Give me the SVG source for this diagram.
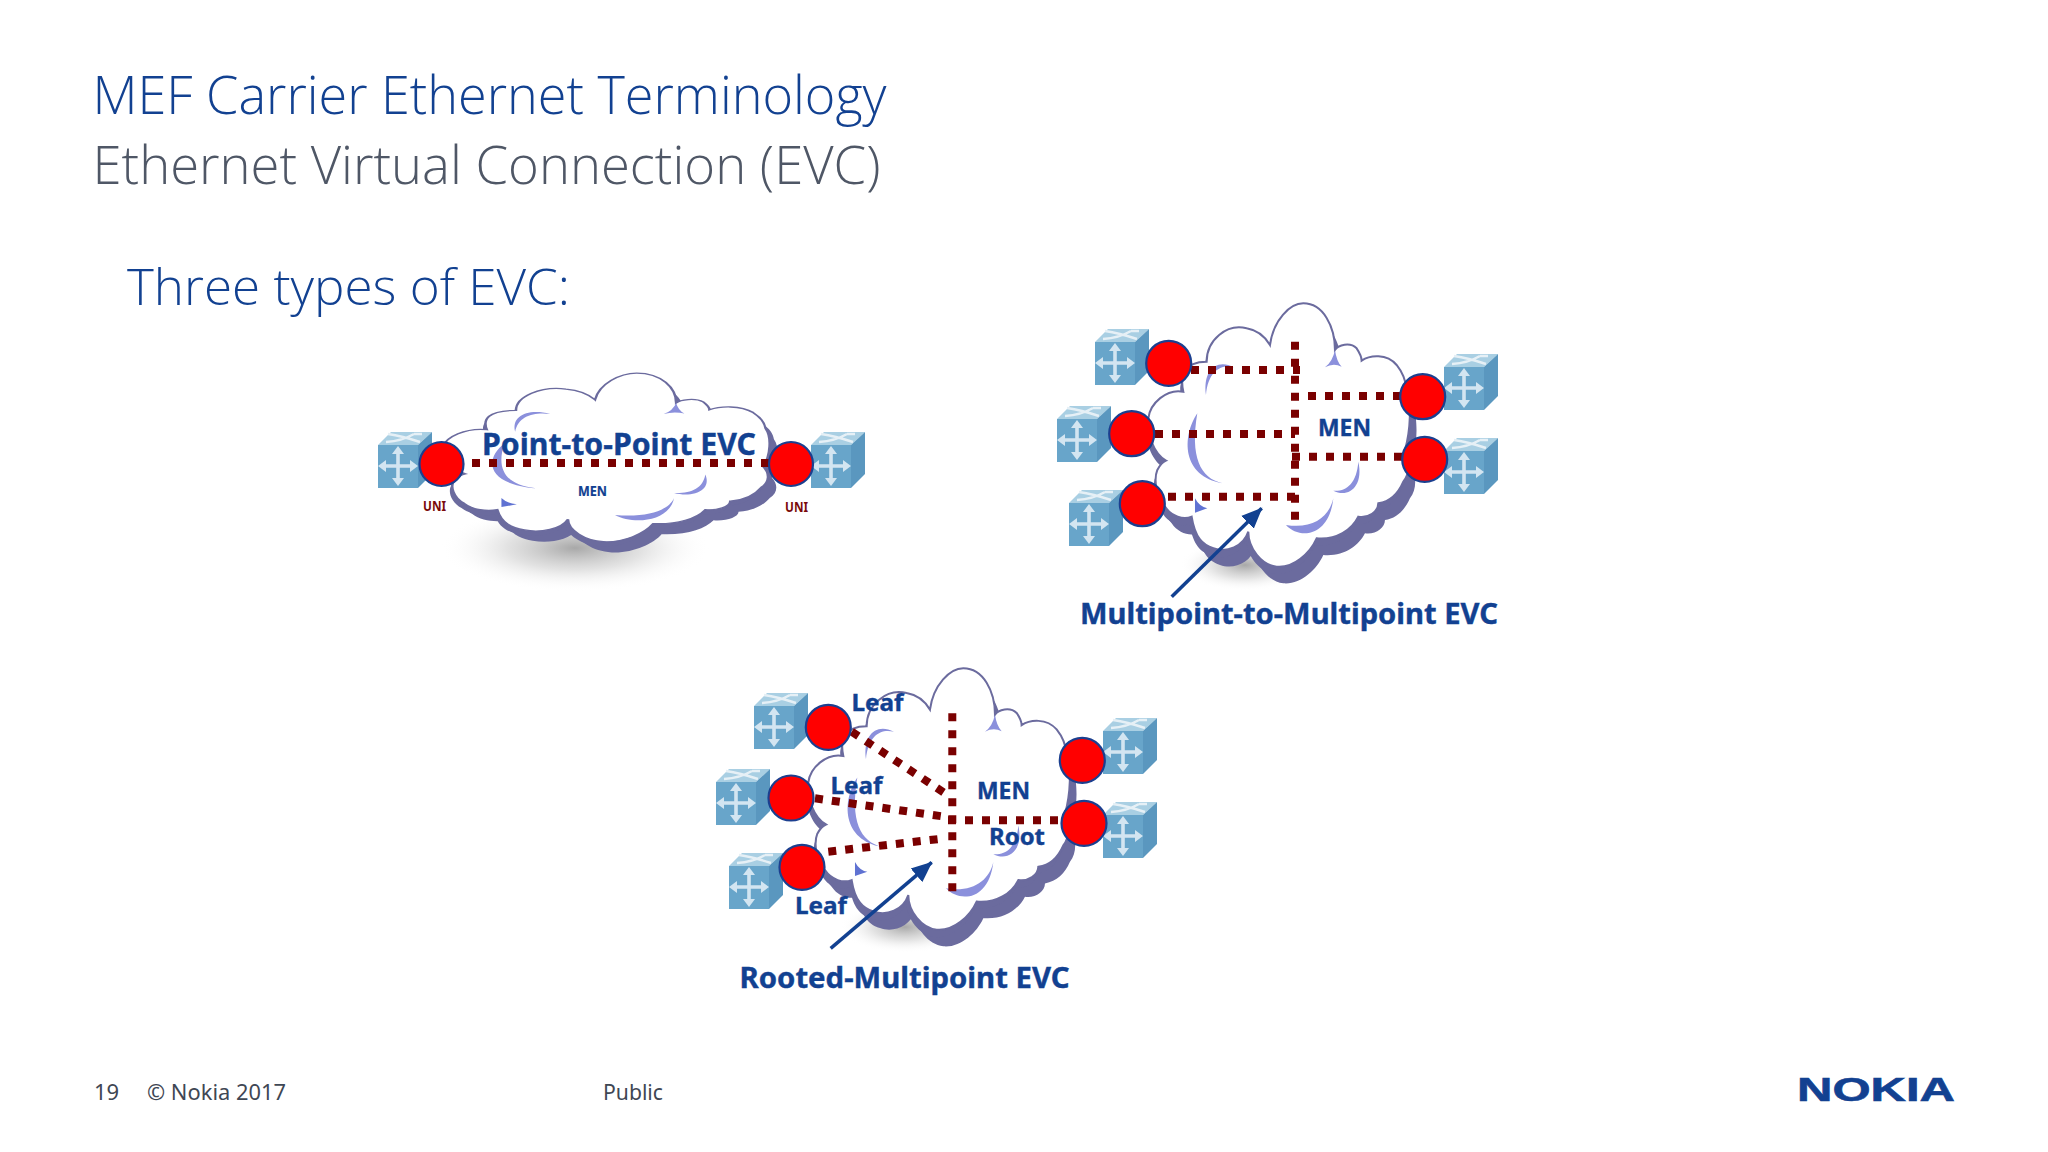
<svg xmlns="http://www.w3.org/2000/svg" xmlns:xlink="http://www.w3.org/1999/xlink" width="2048" height="1152" viewBox="0 0 2048 1152">
<style>
text{font-family:"Noto Sans","Open Sans","Liberation Sans",sans-serif}
.t{font-weight:300;fill:#124191;font-family:"Open Sans","Noto Sans",sans-serif}
.g{fill:#4f5766}
.f{font-size:22px;fill:#3f4754;font-weight:400}
.b{font-weight:700;fill:#124191;stroke:#124191;stroke-width:.4}
.u{font-weight:700;fill:#7a0a0a;font-size:14px}
.d{fill:none;stroke:#7a0000;stroke-width:8;stroke-dasharray:8 9}
.a{fill:none;stroke:#124191;stroke-width:3.5;marker-end:url(#ah)}
.c{fill:#ff0000;stroke:#1b3f8f;stroke-width:2.2}
.k{fill:#8b90dc}
.k2{fill:#5f72d2}
</style>
<defs>
<marker id="ah" markerUnits="userSpaceOnUse" markerWidth="22" markerHeight="20" refX="20" refY="10" orient="auto"><path d="M0,1 L21,10 L0,19 Z" fill="#124191"/></marker>
<radialGradient id="sh"><stop offset="0" stop-color="#a8a8a8"/><stop offset=".5" stop-color="#d6d6d6" stop-opacity=".7"/><stop offset="1" stop-color="#fff" stop-opacity="0"/></radialGradient>
<path id="cp" d="M690,165 C700,90 750,40 790,40 C850,40 885,110 885,180 C895,165 930,155 950,175 C960,190 965,200 965,212 C990,195 1040,190 1070,225 C1090,250 1098,275 1100,300 C1115,340 1112,420 1095,480 C1110,510 1110,550 1090,575 C1075,610 1050,635 1015,640 C1015,665 985,685 955,680 C935,720 890,750 830,745 C810,790 760,835 710,830 C665,825 625,775 625,725 C610,770 560,790 520,775 C490,765 465,745 455,680 C430,690 395,680 375,650 C350,625 340,570 352,540 C360,525 370,515 378,512 C340,490 320,430 325,385 C330,340 380,295 430,305 C420,260 430,215 500,215 C500,150 560,100 620,115 C650,120 675,140 690,165 Z"/>
<g id="cloud">
<use xlink:href="#cp" href="#cp" transform="translate(20,50)" fill="#6b6b9e"/>
<use xlink:href="#cp" href="#cp" transform="translate(-6,22)" fill="#6b6b9e"/>
<use xlink:href="#cp" href="#cp" fill="#fff" stroke="#6b6b9e" stroke-width="6"/>
<path class="k" d="M498,315 C488,240 530,205 582,232 C545,222 505,240 498,315 Z"/>
<path class="k" d="M472,370 C425,440 425,560 548,580 C480,565 450,500 472,370 Z"/>
<path class="k2" d="M465,625 Q478,650 502,655 L465,668 Z"/>
<path class="k" d="M855,232 Q878,215 885,180 Q890,215 905,230 Q880,218 855,232 Z"/>
<path class="k" d="M738,705 C780,750 868,740 880,625 C868,680 820,718 738,705 Z"/>
<path class="k" d="M955,515 C972,590 925,625 880,602 C920,605 950,580 955,515 Z"/>
</g>
<g id="sw">
<polygon points="0,13 13,0 54,0 40,13" fill="#a9cfe3"/>
<polygon points="40,13 54,0 54,42 40,56" fill="#5a97bf"/>
<rect x="0" y="13" width="40" height="43" fill="#68a5ca"/>
<path d="M8,10 Q24,9 36,2 M10,2 Q24,4 42,10 M36,2 L44,2" fill="none" stroke="#e6f0f6" stroke-width="2.4"/>
<path d="M5,34 H35 M20,19 V49" stroke="#d3e5f1" stroke-width="3.600" fill="none"/>
<path d="M0,34 L8,28 V40 Z M40,34 L32,28 V40 Z M20,14 L14,22 H26 Z M20,54 L14,46 H26 Z" fill="#d3e5f1"/>
</g>
</defs>
<rect width="2048" height="1152" fill="#fff"/>

<g id="heading">
<text class="t" x="92.500" y="114" font-size="53" textLength="794" lengthAdjust="spacingAndGlyphs">MEF Carrier Ethernet Terminology</text>
<text class="t g" x="92.500" y="184" font-size="53" textLength="788" lengthAdjust="spacingAndGlyphs">Ethernet Virtual Connection (EVC)</text>
<text class="t" x="127" y="305" font-size="50" textLength="443" lengthAdjust="spacingAndGlyphs">Three types of EVC:</text>
</g>

<g id="clouds">
<g id="cloud-p2p"><ellipse cx="575" cy="548" rx="135" ry="44" fill="url(#sh)"/><use xlink:href="#cloud" href="#cloud" transform="matrix(.416 0 0 .2135 308 364.500)"/></g>
<g id="cloud-mp2mp"><ellipse cx="1245" cy="565" rx="65" ry="26" fill="url(#sh)"/><use xlink:href="#cloud" href="#cloud" transform="matrix(.3333 0 0 .3333 1040 290)"/></g>
<g id="cloud-rooted"><ellipse cx="905" cy="927" rx="65" ry="26" fill="url(#sh)"/><use xlink:href="#cloud" href="#cloud" transform="matrix(.3333 0 0 .331 700 655)"/></g>
</g>

<g id="switches">
<g id="sw-p2p-l"><use href="#sw" x="378" y="432"/></g>
<g id="sw-p2p-r"><use href="#sw" x="811" y="432"/></g>
<g id="sw-m-1"><use href="#sw" x="1095" y="329"/></g>
<g id="sw-m-2"><use href="#sw" x="1057" y="406"/></g>
<g id="sw-m-3"><use href="#sw" x="1069" y="490"/></g>
<g id="sw-m-4"><use href="#sw" x="1444" y="354"/></g>
<g id="sw-m-5"><use href="#sw" x="1444" y="438"/></g>
<g id="sw-r-1"><use href="#sw" x="754" y="693"/></g>
<g id="sw-r-2"><use href="#sw" x="716" y="769"/></g>
<g id="sw-r-3"><use href="#sw" x="729" y="853"/></g>
<g id="sw-r-4"><use href="#sw" x="1103" y="718"/></g>
<g id="sw-r-5"><use href="#sw" x="1103" y="802"/></g>
</g>

<g id="connectors">
<path class="d" d="M472,463 H770"/>
<path class="d" d="M1295,341.700 V521"/>
<path class="d" d="M1191,370 H1300"/>
<path class="d" d="M1155,434 H1295"/>
<path class="d" d="M1168,496.700 H1297"/>
<path class="d" d="M1308,396 H1402"/>
<path class="d" d="M1292,456.700 H1403"/>
<path class="a" d="M1171.700,596.700 L1261.700,508.300"/>
<path class="d" d="M952.300,713.300 V892.700"/>
<path class="d" d="M948,820.300 H1062"/>
<path class="d" d="M851.700,731.700 L945,793.300"/>
<path class="d" d="M815,798.300 L945,816.700"/>
<path class="d" d="M828.300,851.700 L945,838.300"/>
<path class="a" d="M830.700,948.300 L931.700,862.300"/>
</g>

<g id="unis">
<g id="uni-p2p-l"><circle class="c" cx="441.500" cy="464" r="22"/></g>
<g id="uni-p2p-r"><circle class="c" cx="791" cy="464" r="22"/></g>
<g id="uni-m-1"><circle class="c" cx="1168.700" cy="363.300" r="22.500"/></g>
<g id="uni-m-2"><circle class="c" cx="1131.700" cy="433.700" r="22.500"/></g>
<g id="uni-m-3"><circle class="c" cx="1142.300" cy="503.700" r="22.500"/></g>
<g id="uni-m-4"><circle class="c" cx="1422.700" cy="396.700" r="22.500"/></g>
<g id="uni-m-5"><circle class="c" cx="1424.700" cy="459.300" r="22.500"/></g>
<g id="uni-r-1"><circle class="c" cx="828.300" cy="727.300" r="22.500"/></g>
<g id="uni-r-2"><circle class="c" cx="791" cy="798" r="22.500"/></g>
<g id="uni-r-3"><circle class="c" cx="802" cy="867.300" r="22.500"/></g>
<g id="uni-r-4"><circle class="c" cx="1082.300" cy="760.300" r="22.500"/></g>
<g id="uni-r-5"><circle class="c" cx="1084" cy="823.300" r="22.500"/></g>
</g>

<g id="labels">
<text class="b" x="482" y="455" font-size="30" textLength="274" lengthAdjust="spacingAndGlyphs">Point-to-Point EVC</text>
<text class="b" x="578" y="496" font-size="14" textLength="29" lengthAdjust="spacingAndGlyphs" style="stroke-width:.2">MEN</text>
<text class="u" x="423" y="510.700" textLength="23" lengthAdjust="spacingAndGlyphs">UNI</text>
<text class="u" x="785" y="512.300" textLength="23" lengthAdjust="spacingAndGlyphs">UNI</text>
<text class="b" x="1318" y="436" font-size="23.500" textLength="53" lengthAdjust="spacingAndGlyphs">MEN</text>
<text class="b" x="1080" y="624" font-size="29" textLength="418" lengthAdjust="spacingAndGlyphs">Multipoint-to-Multipoint EVC</text>
<text class="b" x="977" y="799" font-size="23.500" textLength="53" lengthAdjust="spacingAndGlyphs">MEN</text>
<text class="b" x="989" y="845" font-size="24" textLength="56" lengthAdjust="spacingAndGlyphs">Root</text>
<text class="b" x="851.500" y="711" font-size="24" textLength="52" lengthAdjust="spacingAndGlyphs">Leaf</text>
<text class="b" x="830.500" y="794" font-size="24" textLength="52" lengthAdjust="spacingAndGlyphs">Leaf</text>
<text class="b" x="795" y="914.300" font-size="24" textLength="52" lengthAdjust="spacingAndGlyphs">Leaf</text>
<text class="b" x="739.500" y="988.300" font-size="29" textLength="330" lengthAdjust="spacingAndGlyphs">Rooted-Multipoint EVC</text>
</g>

<g id="footer">
<text class="f" x="94" y="1100">19</text>
<text class="f" x="147" y="1100" textLength="139" lengthAdjust="spacingAndGlyphs">© Nokia 2017</text>
<text class="f" x="603" y="1100" textLength="60" lengthAdjust="spacingAndGlyphs">Public</text>
<text x="1797" y="1101" font-size="33" font-weight="700" fill="#124191" stroke="#124191" stroke-width=".6" textLength="158" lengthAdjust="spacingAndGlyphs" style="font-family:'Liberation Sans',sans-serif">NOKIA</text>
</g>
</svg>
